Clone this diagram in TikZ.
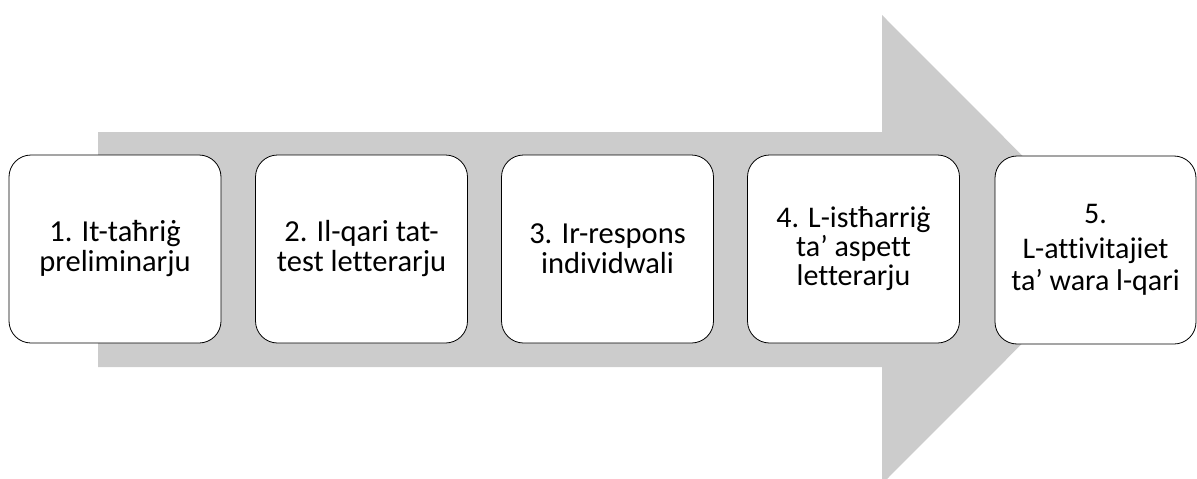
\documentclass[tikz,border=0pt]{standalone}
\usepackage{fontspec}
\setmainfont[Ligatures={NoCommon}]{Carlito}
\definecolor{arrowgray}{RGB}{204,204,204}
\begin{document}
\begin{tikzpicture}[x=1pt,y=-1pt,
  stepbox/.style={draw=black, line width=0.8pt, fill=white, rounded corners=22pt,
    minimum width=212pt, minimum height=188pt, align=center, inner sep=0pt,
    font=\fontsize{30.5}{30}\selectfont}]
\useasboundingbox (0,0) rectangle (1197,479);
\fill[arrowgray] (98,132) -- (882,132) -- (882,15) -- (1116,249.5) -- (882,484)
  -- (882,367) -- (98,367) -- cycle;
\node[stepbox] (b1) at (115,249) {1. It-taħriġ\\preliminarju};
\node[stepbox] (b2) at (361.5,249) {2. Il-qari tat-\\test letterarju};
\node[stepbox] (b3) at (607.5,249) {3. Ir-respons\\individwali};
\node[stepbox, font=\fontsize{30}{29}\selectfont] (b4) at (853.5,249) {4. L-istħarriġ\\ta’ aspett\\letterarju};
\node[stepbox, minimum width=201pt, font=\fontsize{30}{32}\selectfont] (b5) at (1095.5,250) {5.\\[3pt]L-attivitajiet\\ta’ wara l-qari};
\end{tikzpicture}
\end{document}
